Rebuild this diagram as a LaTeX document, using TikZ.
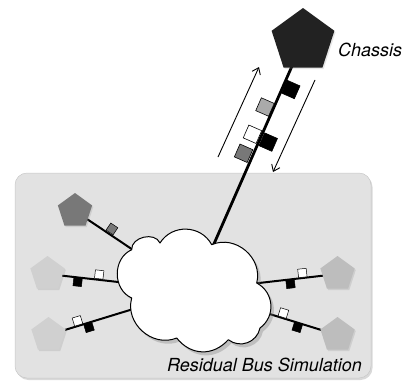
\documentclass[tikz,border=0pt]{standalone}
\usepackage{fontspec}
\setmainfont{TeX Gyre Heros}
\usetikzlibrary{shapes.geometric,shadows,arrows.meta}
\pgfdeclarelayer{bg}
\pgfdeclarelayer{mid}
\pgfsetlayers{bg,mid,main}
\definecolor{bgfill}{HTML}{E2E2E2}
\definecolor{bgline}{HTML}{C8C8C8}
\definecolor{chfill}{HTML}{222222}
\definecolor{dgray}{HTML}{787878}
\definecolor{lgrayL}{HTML}{D0D0D0}
\definecolor{lgrayR}{HTML}{BDBDBD}
\definecolor{mgray}{HTML}{AAAAAA}
\begin{document}
\begin{tikzpicture}[x=1pt,y=-1pt,
  pent/.style={regular polygon, regular polygon sides=5, inner sep=0pt,
    minimum size=36pt, draw=none,
    drop shadow={opacity=0.2, shadow xshift=1.2pt, shadow yshift=-1.5pt}},
  bigsq/.style={rectangle, draw=black, line width=0.6pt, minimum size=14pt, inner sep=0pt},
  smallsq/.style={rectangle, draw=black, line width=0.5pt, minimum size=8.5pt, inner sep=0pt},
  mainlink/.style={line width=2.8pt},
  link/.style={line width=2pt},
  flow/.style={line width=0.9pt, -{Straight Barb[length=6pt,width=9pt,line width=0.9pt]}},
  cloudline/.style={draw=black, line width=1pt, fill=white, line join=round,
    drop shadow={opacity=0.35, shadow xshift=3pt, shadow yshift=-3.5pt}},
  lbl/.style={anchor=base west, font=\fontsize{18}{20}\selectfont\itshape, inner sep=0pt}]
\useasboundingbox (0,0) rectangle (406,383);

% background frame
\begin{pgfonlayer}{bg}
\fill[bgfill, draw=bgline, line width=0.5pt, rounded corners=12pt,
  drop shadow={opacity=0.3, shadow xshift=1.5pt, shadow yshift=-2pt}]
  (15,173) rectangle (371,378);
\end{pgfonlayer}

% nodes
\node[pent, minimum size=66pt, fill=chfill] (chassis) at (303,41) {};
\node[lbl] (chlabel) at (338,56.5) {Chassis};
\node[inner sep=0pt, minimum width=153pt, minimum height=115pt] (cloud) at (193.5,290.5) {};
\path[cloudline, looseness=1.12] (131.7,249.7) to[bend left=80] (160,243) to[bend left=60] (211.7,244.7)
  to[bend left=64] (256.7,283) to[bend left=58] (260,328) to[bend left=58] (228.3,339.7)
  to[bend left=50] (176.7,338) to[bend left=64] (131.7,298) to[bend left=66] cycle;
\node[pent, fill=dgray] (tl) at (75,211) {};
\node[pent, fill=lgrayL] (ml) at (47.5,274) {};
\node[pent, fill=lgrayL] (ll) at (48.5,335) {};
\node[pent, fill=lgrayR] (ur) at (337.5,274) {};
\node[pent, fill=lgrayR] (lr) at (337.5,335) {};
\node[lbl] (buslabel) at (167,371.5) {Residual Bus Simulation};

\coordinate (upA) at (218,157);
\coordinate (upB) at (259,67);
\coordinate (dnA) at (315,80);
\coordinate (dnB) at (273,172);

% connectors
\begin{pgfonlayer}{mid}
\draw[mainlink] (chassis.center) -- (cloud.center)
  node[bigsq, fill=black, pos=0.181, sloped, below=1pt] (m1) {}
  node[bigsq, fill=mgray, pos=0.278, sloped, above=1pt] (m2) {}
  node[bigsq, fill=white, pos=0.388, sloped, above=1.5pt] (m3) {}
  node[bigsq, fill=black, pos=0.391, sloped, below=1.5pt] (m4) {}
  node[bigsq, fill=dgray, pos=0.465, sloped, above=2pt] (m5) {};
\draw[link] (tl.center) -- (cloud.center)
  node[smallsq, fill=dgray, pos=0.285, sloped, above=1.2pt] {};
\draw[link] (ml.center) -- (cloud.center)
  node[smallsq, fill=white, pos=0.35, sloped, above=0.8pt] {}
  node[smallsq, fill=black, pos=0.21, sloped, below=0pt] {};
\draw[link] (ll.center) -- (cloud.center)
  node[smallsq, fill=white, pos=0.21, sloped, above=0.5pt] {}
  node[smallsq, fill=black, pos=0.27, sloped, below=0pt] {};
\draw[link] (ur.center) -- (cloud.center)
  node[smallsq, fill=white, pos=0.24, sloped, above=0.5pt] {}
  node[smallsq, fill=black, pos=0.33, sloped, below=0pt] {};
\draw[link] (lr.center) -- (cloud.center)
  node[smallsq, fill=white, pos=0.386, sloped, above=0.5pt] {}
  node[smallsq, fill=black, pos=0.27, sloped, below=0pt] {};
\end{pgfonlayer}

\draw[flow] (upA) -- (upB);
\draw[flow] (dnA) -- (dnB);
\end{tikzpicture}
\end{document}
